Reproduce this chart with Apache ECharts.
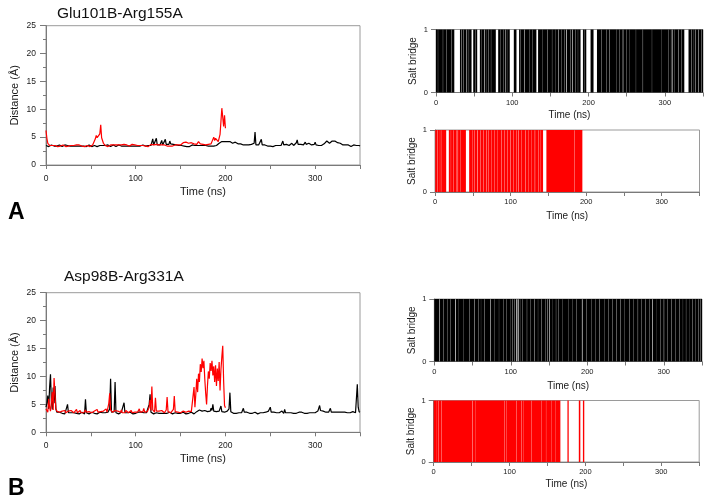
<!DOCTYPE html>
<html><head><meta charset="utf-8">
<script src="https://cdn.jsdelivr.net/npm/echarts@6/dist/echarts.min.js"></script>
<style>html,body{margin:0;padding:0;background:#fff}#c{width:707px;height:497px}</style>
</head><body><div id="c"></div><script>
// ---------- data ----------
const titles = ['Glu101B-Arg155A', 'Asp98B-Arg331A'];
const panelLabels = ['A', 'B'];
const timeStep = 1; // ns between samples
const timeMax = 350;

// Panel A distance (Å), black (t = 0..350 ns)
const distA_black = [
3.5,3.4,3.6,3.3,3.5,3.4,3.6,3.5,3.3,3.4,
3.6,3.5,3.4,3.3,3.5,3.6,3.4,3.5,3.3,3.4,
3.5,3.6,3.4,3.3,3.5,3.4,3.6,3.4,3.5,3.3,
3.4,3.5,3.6,3.4,3.3,3.5,3.4,3.6,3.5,3.4,
3.3,3.5,3.4,3.6,3.5,3.3,3.4,3.5,3.6,3.4,
3.5,3.3,3.4,3.6,3.5,3.4,3.5,3.3,3.6,3.4,
3.5,3.4,3.3,3.5,3.6,3.4,3.5,3.3,3.4,3.6,
3.5,3.4,3.3,3.5,3.4,3.6,3.5,3.4,3.3,3.5,
3.4,3.6,3.5,3.3,3.4,3.5,3.6,3.4,3.5,3.3,
3.4,3.5,3.6,3.4,3.3,3.5,3.4,3.6,3.5,3.4,
3.3,3.5,3.4,3.6,3.5,3.4,3.3,3.5,3.6,3.4,
3.5,3.4,3.6,3.3,3.5,3.4,3.6,3.5,4.1,4.7,
3.6,3.5,3.7,4.8,3.6,3.5,3.8,3.6,3.7,4.4,
3.6,3.8,3.5,4.6,3.7,3.6,3.9,3.7,4.3,3.8,
3.6,3.9,3.7,3.8,4.0,3.6,3.8,3.7,3.5,3.6,
3.4,3.5,3.3,3.5,3.4,3.6,3.4,3.3,3.5,3.4,
3.3,3.5,3.4,3.6,3.3,3.4,3.5,3.3,3.4,3.5,
3.4,3.3,3.5,3.4,3.3,3.5,3.4,3.3,3.5,3.4,
3.3,3.4,3.5,3.3,3.4,3.3,3.5,3.4,3.3,3.4,
3.5,3.4,3.6,3.9,4.1,4.0,4.2,4.1,3.9,4.2,
4.1,4.0,4.2,3.9,4.1,4.2,4.0,4.1,3.9,4.2,
4.0,4.1,3.9,4.0,3.8,3.7,3.6,3.8,3.7,3.5,
3.6,3.5,3.7,3.6,3.4,3.5,3.6,3.4,3.5,3.7,
3.5,3.6,3.9,5.9,3.6,3.5,3.4,3.6,3.5,3.7,
4.6,3.6,3.4,3.5,3.6,3.3,3.5,3.4,3.6,3.5,
3.4,3.6,3.5,3.3,3.4,3.6,3.5,3.7,3.4,3.5,
3.6,3.8,3.5,3.7,4.3,3.6,3.8,3.5,3.7,3.9,
3.6,3.5,3.8,3.6,3.9,3.7,3.5,3.8,3.6,4.0,
4.5,3.7,3.6,3.9,3.7,3.5,3.8,3.6,3.9,4.1,
3.7,3.8,3.6,3.9,4.2,3.7,3.6,3.8,3.5,3.7,
4.1,3.6,3.8,3.7,3.5,3.6,3.4,3.5,3.7,3.6,
3.8,3.6,3.9,4.3,4.0,4.2,3.9,3.7,4.1,4.3,
4.2,4.0,4.3,4.1,4.2,4.0,3.8,4.1,3.9,3.7,
3.9,3.6,3.8,3.5,3.6,3.4,3.5,3.6,3.4,3.5,
3.3,3.5,3.4,3.6,3.3,3.4,3.5,3.3,3.4,3.5,
3.4];

// Panel A distance (Å), red (t = 0..200 ns)
const distA_red = [
6.2,4.8,3.9,3.6,3.5,3.4,3.6,3.5,3.3,3.4,
3.5,3.6,3.4,3.3,3.5,3.6,3.4,3.5,3.3,3.6,
3.4,3.5,3.3,3.6,3.5,3.4,3.6,3.3,3.5,3.4,
3.6,3.5,3.4,3.3,3.6,3.5,3.4,3.6,3.3,3.5,
3.4,3.6,3.5,3.3,3.4,3.6,3.5,3.4,3.6,3.3,
3.5,3.4,3.6,3.5,3.4,4.7,5.3,4.9,5.1,4.8,
5.6,7.2,4.9,4.4,3.9,3.6,3.5,3.4,3.6,3.3,
3.5,3.4,3.6,3.5,3.3,3.6,3.4,3.5,3.6,3.3,
3.4,3.6,3.5,3.3,3.6,3.4,3.5,3.7,3.4,3.5,
3.6,3.3,3.5,3.4,3.6,3.5,3.7,3.4,3.5,3.6,
3.4,3.6,3.5,3.3,3.7,3.5,3.4,3.6,3.5,3.8,
3.5,3.4,3.6,3.5,3.3,3.6,3.5,3.7,3.4,3.5,
3.6,3.4,3.5,3.7,3.5,3.4,3.6,3.5,3.3,3.6,
3.5,3.4,3.6,3.5,3.7,3.4,3.5,3.6,3.4,3.5,
3.6,3.4,3.5,3.3,3.6,3.5,3.4,3.6,3.5,3.4,
3.6,3.8,3.7,4.0,3.9,3.7,4.1,3.8,4.0,3.9,
4.2,3.8,4.0,3.9,4.3,3.8,4.1,4.0,3.7,3.9,
4.2,4.0,3.8,3.9,4.1,3.7,3.8,4.0,3.6,3.9,
3.8,3.7,3.9,3.6,3.8,4.0,4.6,5.0,4.4,4.8,
4.5,4.7,4.2,4.0,5.5,7.8,10.2,8.6,6.9,8.9,
6.6];

// Panel B distance (Å), black (t = 0..350 ns)
const distB_black = [
4.5,5.2,6.6,4.2,8.0,10.4,5.6,4.1,8.0,5.2,
8.3,4.2,3.6,3.5,3.4,3.6,3.3,3.5,3.4,3.6,
3.5,3.3,3.4,3.6,5.0,3.5,3.4,3.3,3.5,3.6,
3.4,3.5,3.3,3.6,3.4,3.5,3.6,3.3,3.4,3.5,
3.6,3.4,3.5,3.3,5.9,3.5,3.4,3.6,3.3,3.5,
3.4,3.6,3.5,3.3,3.4,3.6,3.5,3.3,3.4,3.5,
3.6,3.4,3.3,3.5,3.6,3.4,3.5,3.3,3.4,3.6,
3.5,4.2,9.6,3.6,3.4,3.5,3.7,9.0,3.5,3.4,
3.6,3.3,3.5,3.4,3.6,3.5,3.3,5.3,3.5,3.4,
3.6,3.5,3.3,3.4,3.6,3.5,3.4,3.3,3.5,3.6,
3.4,3.5,3.3,3.6,3.4,3.5,3.6,3.3,3.4,3.5,
3.6,3.4,3.5,3.3,3.7,5.0,6.8,3.6,3.4,3.5,
3.3,3.6,3.4,3.5,3.6,3.3,3.4,3.5,3.6,3.4,
3.5,3.3,3.4,3.6,3.5,3.4,3.3,3.5,3.6,3.4,
3.5,3.3,3.6,3.4,3.5,3.6,3.3,3.4,3.5,3.6,
3.4,3.5,3.3,3.6,3.4,3.5,3.3,3.6,3.5,3.4,
3.3,3.5,3.6,3.4,3.5,3.3,3.6,3.5,3.7,3.9,
3.8,4.0,3.7,3.9,3.8,4.1,3.7,3.9,3.8,4.0,
3.7,3.9,4.0,3.8,4.3,3.9,5.0,3.8,4.0,3.9,
3.7,3.8,4.0,3.8,3.9,4.7,3.7,3.9,3.8,3.6,
3.7,3.5,3.8,3.6,4.2,7.1,3.7,3.5,3.6,3.4,
3.5,3.6,3.4,3.5,3.7,3.5,3.4,3.6,3.5,3.7,
4.3,3.6,3.4,3.5,3.6,3.3,3.5,3.4,3.6,3.5,
3.4,3.3,3.5,3.6,3.4,3.5,3.3,3.6,3.4,3.5,
3.6,3.4,3.5,3.3,3.5,3.6,3.4,3.5,3.8,4.1,
4.5,3.6,3.5,3.4,3.6,3.5,3.3,3.5,3.4,3.6,
3.5,3.4,3.6,3.8,3.5,3.4,4.1,3.5,3.6,3.4,
3.5,3.6,3.4,3.5,3.3,3.6,3.4,3.5,3.6,3.4,
3.5,3.3,3.6,3.5,3.4,3.6,3.5,3.3,3.4,3.6,
3.5,3.4,3.6,3.3,3.5,3.4,3.6,3.5,3.4,3.6,
3.5,3.7,3.6,3.8,4.1,4.8,3.9,3.7,3.6,3.8,
3.5,3.7,3.6,3.5,3.8,3.6,3.7,4.3,3.6,3.5,
3.7,3.6,3.5,3.8,3.6,3.7,3.5,3.6,3.8,3.5,
3.6,3.7,3.5,3.6,3.4,3.7,3.5,3.6,3.8,3.5,
3.6,3.4,3.7,3.5,3.6,3.5,3.7,8.6,4.5,3.7,
3.6];

// Panel B distance (Å), red (t = 0..200 ns)
const distB_red = [
4.2,4.0,3.6,6.0,4.5,3.8,5.5,7.2,4.0,9.7,
6.8,4.2,3.8,3.5,3.9,3.6,3.7,3.4,3.8,3.5,
3.6,3.9,3.5,3.7,3.4,3.8,3.6,3.5,3.9,3.6,
3.7,3.5,3.8,3.6,4.1,3.5,3.7,3.6,3.9,3.5,
3.8,3.6,3.5,3.7,4.0,3.6,3.8,3.5,3.7,3.6,
3.9,3.5,3.7,3.6,3.8,3.5,3.7,4.1,3.6,3.8,
3.5,3.7,3.9,3.6,3.8,3.5,3.7,4.2,3.6,3.9,
5.2,7.0,4.0,3.7,3.6,3.8,3.5,3.9,3.7,3.6,
3.8,3.5,3.7,3.6,4.0,3.5,3.8,3.7,3.5,3.9,
3.6,3.8,3.5,3.7,3.6,3.9,3.5,3.7,3.8,3.6,
3.5,3.8,3.6,3.7,4.2,3.6,3.5,3.8,3.7,4.3,
3.6,3.8,3.5,3.7,3.9,4.5,5.8,3.9,8.2,4.0,
3.7,3.6,6.2,3.8,3.6,3.5,3.8,3.7,3.5,3.9,
3.6,3.7,3.5,3.8,4.0,6.3,3.7,3.6,3.8,3.5,
3.7,3.6,4.1,6.5,3.7,3.5,3.8,3.6,3.7,3.9,
3.5,3.7,3.6,3.8,3.5,3.9,3.6,3.7,3.5,3.8,
3.6,3.9,3.7,3.5,4.0,8.1,4.5,6.8,9.6,7.2,
10.5,9.0,12.2,10.8,13.2,11.5,12.8,9.5,7.0,5.0,
8.4,10.9,9.6,12.4,11.0,12.8,10.2,11.8,9.0,12.0,
8.3,11.4,9.2,12.6,7.5,11.2,13.5,15.5,9.2,4.8,
4.4];

// Salt bridge broken intervals [start, end] in ns (state 0); otherwise state 1
const bridgeA_black_gaps = [
[2.5,2.75],[9,9.3],[14,14.4],[20,20.25],[24,31.4],[33,33.4],[36,36.25],[40,40.7],[43,43.3],[46.6,48.8],
[52,52.25],[54,57.5],[60,60.3],[63,63.7],[65.5,65.75],[69,69.4],[72,72.3],[78.4,81.5],[84,84.25],[88,88.25],
[91,91.5],[93,93.25],[96.7,102],[105.5,108.9],[111,111.3],[116,116.7],[122,122.25],[126,126.25],[131.6,133.8],[139,139.25],
[146,146.3],[152,152.3],[156,156.25],[160,160.6],[164,164.25],[168,168.25],[170.5,171.3],[176,176.25],[178.4,179.1],[183,183.25],
[186,186.25],[189.5,192.6],[194,194.3],[197,202.6],[206.5,211],[217,217.25],[223,223.3],[227.5,227.9],[236,236.25],[240,240.3],
[244.8,245.5],[250,250.4],[253,253.25],[262,262.25],[271,271.4],[283,283.25],[296,296.25],[305,305.25],[308,308.4],[310,310.6],
[313,313.25],[318,318.5],[322,322.3],[325.5,331],[335,335.4],[338,338.25],[340,340.4],[344,344.5],[348,348.25]];

const bridgeA_red_gaps = [
[1,1.3],[3,3.25],[6.5,6.75],[9,9.25],[14.8,18.3],[21,21.25],[24,24.3],[28,28.25],[30,30.5],[34,34.25],
[40.9,45.2],[49,49.3],[52,52.25],[56,56.5],[60,60.25],[64,64.25],[68,68.3],[71,71.4],[75,75.25],[79,79.4],
[83,83.25],[87.5,87.9],[92,92.25],[96,96.25],[99.5,99.9],[104,104.25],[108,108.25],[110.2,110.6],[114,114.25],[119.8,120.2],
[124,124.25],[128,128.25],[132,132.5],[137,137.25],[140,140.25],[143,147.4],[184,184.4],[195,350]];

const bridgeB_black_gaps = [
[6.5,7.1],[12,12.2],[17.5,17.7],[21,21.15],[27.5,28.4],[31,31.2],[38.5,38.65],[46,46.2],[52,52.5],[57.5,57.7],
[61,61.15],[65.8,66.2],[73,73.6],[79,79.15],[84.5,84.7],[90,90.25],[94.5,94.65],[99,99.2],[102,102.25],[104.8,105],
[107,107.8],[109,110.2],[112,112.25],[115,115.2],[121,121.35],[126,126.2],[131,131.4],[135.5,135.7],[140,140.25],[145,145.2],
[148,148.4],[150,150.7],[155,155.2],[159,159.3],[162.5,162.7],[167,167.25],[175,175.15],[181,181.15],[186,186.2],[193,193.8],
[199,199.2],[205,205.25],[211,211.2],[216,216.35],[222,222.2],[228,228.4],[233,233.2],[238,238.25],[243,243.35],[249,249.2],
[255,255.25],[260,260.2],[266,266.4],[271,271.2],[276,276.25],[281,281.2],[285,285.7],[291,291.2],[296,296.4],[300,300.5],
[305,305.2],[310,310.25],[315,315.2],[320,320.4],[325,325.2],[329,329.3],[333,333.2],[337,337.4],[341,341.2],[345,345.3],
[348,348.2]];

const bridgeB_red_gaps = [
[3,3.2],[6,6.25],[10.3,10.55],[51,51.35],[55.5,55.75],[93.5,93.8],[95.5,95.7],[109,109.2],[115.5,115.75],[117.8,118],
[128.5,128.75],[141.6,141.85],[148,148.25],[154.7,154.95],[160,160.2],[167,176.3],[178,191.3],[193.3,196.7],[198.5,350]];

// ---------- build ----------
const toPairs = arr => arr.map((v, i) => [i * timeStep, v]);
// intervals where the salt bridge is formed (state 1) = complement of the gaps
function onIntervals(gaps) {
  const out = [];
  let cur = 0;
  gaps.forEach(([s, e]) => { if (s > cur) out.push([cur, s]); cur = e; });
  if (cur < timeMax) out.push([cur, timeMax]);
  return out;
}

const FONT = "'Liberation Sans', Arial, Helvetica, sans-serif";
const AX = '#7a7a7a';
const TXT = '#1a1a1a';

const grids = [
  {left: 46, top: 25.7, width: 314, height: 139.3},     // A left
  {left: 46, top: 292.7, width: 314, height: 139.6},    // B left
  {left: 436, top: 29.5, width: 267, height: 63},       // A right top
  {left: 435, top: 130, width: 264.5, height: 62},      // A right bottom
  {left: 434.3, top: 299, width: 267.7, height: 62.5},  // B right top
  {left: 433.7, top: 400.5, width: 265.5, height: 61.5} // B right bottom
].map(g => Object.assign({show: true, borderColor: '#9a9a9a', borderWidth: 1, backgroundColor: 'transparent'}, g));

function xAx(gi, small, gap) {
  return {
    gridIndex: gi, type: 'value', min: 0, max: timeMax, interval: 50,
    axisLine: {show: true, lineStyle: {color: AX, width: 1}},
    axisTick: {show: true, length: 4, lineStyle: {color: AX}},
    axisLabel: {formatter: v => (v % 100 === 0 && v < timeMax) ? String(v) : '', fontSize: small ? 7.5 : 8.5,
      color: TXT, margin: small ? 6 : 9, fontFamily: FONT},
    splitLine: {show: false},
    name: 'Time (ns)', nameLocation: 'middle', nameGap: gap,
    nameTextStyle: {fontSize: small ? 10 : 11, color: TXT, fontFamily: FONT}
  };
}
function yAxLeft(gi) {
  return {
    gridIndex: gi, type: 'value', min: 0, max: 25, interval: 5,
    axisLine: {show: true, lineStyle: {color: AX}},
    axisTick: {show: true, length: 6, lineStyle: {color: AX}},
    minorTick: {show: true, splitNumber: 2, length: 3, lineStyle: {color: AX}},
    axisLabel: {fontSize: 8.5, color: TXT, margin: 10, fontFamily: FONT},
    splitLine: {show: false},
    name: 'Distance (Å)', nameLocation: 'middle', nameGap: 26,
    nameTextStyle: {fontSize: 11, color: TXT, fontFamily: FONT}
  };
}
function yAxRight(gi) {
  return {
    gridIndex: gi, type: 'value', min: 0, max: 1, interval: 1,
    axisLine: {show: true, lineStyle: {color: AX}},
    axisTick: {show: true, length: 5, lineStyle: {color: AX}},
    axisLabel: {fontSize: 7.5, color: TXT, margin: 8, fontFamily: FONT},
    splitLine: {show: false},
    name: 'Salt bridge', nameLocation: 'middle', nameGap: 17.5,
    nameTextStyle: {fontSize: 10, color: TXT, fontFamily: FONT}
  };
}

function distSeries(data, gi, color) {
  return {type: 'line', xAxisIndex: gi, yAxisIndex: gi, data: toPairs(data), showSymbol: false,
    symbol: 'none', lineStyle: {color, width: 1.2}, itemStyle: {color}, silent: true};
}
function bridgeSeries(gaps, gi, color) {
  return {
    type: 'custom', xAxisIndex: gi, yAxisIndex: gi, silent: true,
    data: onIntervals(gaps), encode: {x: [0, 1]},
    renderItem: function (params, api) {
      const p0 = api.coord([api.value(0), 1]);
      const p1 = api.coord([api.value(1), 0]);
      return {type: 'rect', shape: {x: p0[0], y: p0[1], width: p1[0] - p0[0], height: p1[1] - p0[1]},
        style: {fill: color}};
    }
  };
}

const chart = echarts.init(document.getElementById('c'), null, {renderer: 'canvas'});
chart.setOption({
  animation: false,
  backgroundColor: '#fff',
  textStyle: {fontFamily: FONT},
  title: [
    {text: titles[0], left: 52, top: 1, textStyle: {fontSize: 15.5, fontWeight: 'normal', color: '#111', fontFamily: FONT}},
    {text: titles[1], left: 59, top: 264, textStyle: {fontSize: 15.5, fontWeight: 'normal', color: '#111', fontFamily: FONT}},
    {text: panelLabels[0], left: 3, top: 196, textStyle: {fontSize: 23, fontWeight: 'bold', color: '#000', fontFamily: FONT}},
    {text: panelLabels[1], left: 3, top: 472, textStyle: {fontSize: 23, fontWeight: 'bold', color: '#000', fontFamily: FONT}}
  ],
  grid: grids,
  xAxis: [xAx(0, false, 21.5), xAx(1, false, 21.5), xAx(2, true, 17.5), xAx(3, true, 19), xAx(4, true, 19.5), xAx(5, true, 17)],
  yAxis: [yAxLeft(0), yAxLeft(1), yAxRight(2), yAxRight(3), yAxRight(4), yAxRight(5)],
  series: [
    distSeries(distA_black, 0, '#000000'),
    distSeries(distA_red, 0, '#ff0000'),
    distSeries(distB_black, 1, '#000000'),
    distSeries(distB_red, 1, '#ff0000'),
    bridgeSeries(bridgeA_black_gaps, 2, '#000000'),
    bridgeSeries(bridgeA_red_gaps, 3, '#ff0000'),
    bridgeSeries(bridgeB_black_gaps, 4, '#000000'),
    bridgeSeries(bridgeB_red_gaps, 5, '#ff0000')
  ]
});
</script></body></html>
